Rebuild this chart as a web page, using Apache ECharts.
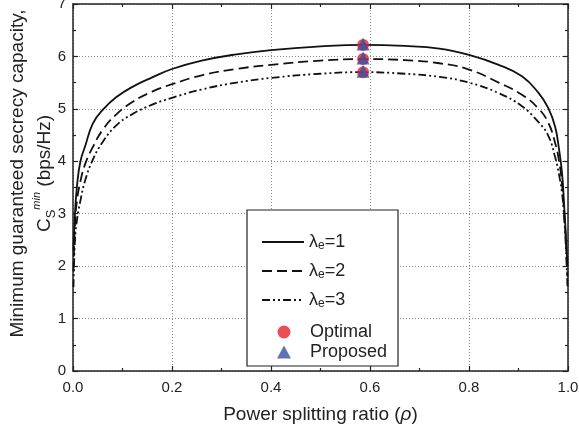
<!DOCTYPE html>
<html>
<head>
<meta charset="utf-8">
<script src="https://cdn.jsdelivr.net/npm/echarts@6/dist/echarts.min.js"></script>
<style>html,body{margin:0;padding:0;background:#fff}#c{width:579px;height:435px}</style>
</head>
<body>
<div id="c"></div>
<script>
var rho = [0.001,0.004,0.008,0.015,0.025,0.04,0.06,0.087,0.12,0.16,0.2,0.26,0.33,0.4,0.5,0.586,0.67,0.74,0.8,0.86,0.907,0.94,0.96,0.974,0.982,0.988,0.992,0.995,0.999];
var cs1 = [2.3,3.0,3.52,4.0,4.3,4.72,4.98,5.22,5.42,5.6,5.76,5.92,6.04,6.12,6.19,6.22,6.2,6.15,6.03,5.84,5.62,5.31,5.02,4.66,4.22,3.77,3.2,2.7,2.0];
var cs2 = [1.9,2.8,3.25,3.62,3.96,4.27,4.6,4.89,5.13,5.33,5.47,5.64,5.76,5.84,5.92,5.95,5.93,5.87,5.75,5.5,5.27,5.01,4.74,4.35,4.0,3.55,3.05,2.6,1.8];
var cs3 = [1.6,2.5,2.88,3.25,3.65,4.03,4.37,4.68,4.9,5.08,5.21,5.37,5.5,5.59,5.67,5.7,5.67,5.61,5.5,5.3,5.05,4.75,4.49,4.08,3.74,3.39,2.95,2.5,1.6];
var rhoOpt = [0.586, 0.586, 0.586];
var csOpt = [6.22, 5.95, 5.70];
var rhoProp = [0.586, 0.586, 0.586];
var csProp = [6.22, 5.95, 5.70];
var lineNames = ['λe=1', 'λe=2', 'λe=3'];
var markNames = ['Optimal', 'Proposed'];
var xTicks = ['0.0','0.2','0.4','0.6','0.8','1.0'];
var yTicks = ['0','1','2','3','4','5','6','7'];

function pairs(xs, ys){ return xs.map(function(x,i){ return [x, ys[i]]; }); }

var FONT = 'Liberation Sans, Arial, sans-serif';
var TXT = '#222';
var chart = echarts.init(document.getElementById('c'), null, {renderer:'canvas'});

var axisCommon = {
  axisLine: {show:true, onZero:false, lineStyle:{color:'#222', width:1.5}},
  axisTick: {show:true, inside:true, length:5, lineStyle:{color:'#222', width:1.2}},
  minorTick: {show:true, splitNumber:2, length:3, lineStyle:{color:'#222', width:1.2}}
};

function legendFmt(name){
  var m = /^λe(=\d)$/.exec(name);
  if (m) return '{a|λ}{b|e}{a|' + m[1] + '}';
  return '{p|' + name + '}';
}
var legendRich = {
  a:{fontSize:18, fontFamily:FONT, color:TXT, lineHeight:20},
  b:{fontSize:12, fontFamily:FONT, color:TXT, lineHeight:13, verticalAlign:'bottom'},
  p:{fontSize:18, fontFamily:FONT, color:TXT, lineHeight:20, padding:[0,0,0,14]}
};

var dashTypes = ['solid', [10,5], [8,3,2,3,2,3]];

var series = [];
[cs1, cs2, cs3].forEach(function(arr, i){
  series.push({
    type:'line', name: lineNames[i], xAxisIndex:0, yAxisIndex:0,
    data: pairs(rho, arr), symbol:'none', smooth:0.45,
    lineStyle:{color:'#111', width:1.8, type: dashTypes[i]},
    itemStyle:{color:'#111'}, z:3
  });
});
series.push({
  type:'scatter', name: markNames[0], data: pairs(rhoOpt, csOpt),
  symbol:'circle', symbolSize:12, itemStyle:{color:'#e8202a'}, z:4
});
series.push({
  type:'scatter', name: markNames[1], data: pairs(rhoProp, csProp),
  symbol:'triangle', symbolSize:13, symbolOffset:[0,-1], itemStyle:{color:'#3a4fa0'}, z:5
});

chart.setOption({
  animation:false,
  backgroundColor:'#fff',
  grid:{left:73, right:11, top:4, bottom:64, containLabel:false, outerBoundsMode:'none'},
  xAxis:[
    Object.assign({}, axisCommon, {
      type:'value', position:'bottom', min:0, max:1, interval:0.2,
      axisLabel:{show:true, margin:9, fontSize:15, fontFamily:FONT, color:TXT,
        formatter:function(v){ return xTicks[Math.round(v/0.2)]; }},
      splitLine:{show:true, lineStyle:{color:'#8a8a8a', width:1, type:[1,2]}},
      name:'{t|Power splitting ratio (}{i|ρ}{t|)}', nameLocation:'middle', nameGap:34,
      nameMoveOverlap:false,
      nameTextStyle:{fontSize:19, fontFamily:FONT, color:TXT,
        rich:{t:{fontSize:19, fontFamily:FONT, color:TXT}, i:{fontSize:19, fontFamily:FONT, fontStyle:'italic', color:TXT}}}
    }),
    Object.assign({}, axisCommon, {
      type:'value', position:'top', min:0, max:1, interval:0.2,
      axisLabel:{show:false}, splitLine:{show:false}
    })
  ],
  yAxis:[
    Object.assign({}, axisCommon, {
      type:'value', position:'left', min:0, max:7, interval:1,
      axisLabel:{show:true, margin:7, fontSize:15, fontFamily:FONT, color:TXT,
        formatter:function(v){ return yTicks[Math.round(v)]; }},
      splitLine:{show:true, lineStyle:{color:'#8a8a8a', width:1, type:[1,2]}},
      name:'{t|Minimum guaranteed secrecy capacity,}\n{t|C}{sub|S}{sup|min}{t| (bps/Hz)}',
      nameLocation:'middle', nameGap:15, nameMoveOverlap:false,
      nameTextStyle:{fontSize:19, fontFamily:FONT, color:TXT, padding:[0,0,0,28],
        rich:{
          t:{fontSize:19, fontFamily:FONT, color:TXT, lineHeight:27},
          sub:{fontSize:13, fontFamily:FONT, color:TXT, lineHeight:14, verticalAlign:'bottom'},
          sup:{fontSize:11, fontFamily:FONT, fontStyle:'italic', color:TXT, lineHeight:12, verticalAlign:'top'}
        }}
    }),
    Object.assign({}, axisCommon, {
      type:'value', position:'right', min:0, max:7, interval:1,
      axisLabel:{show:false}, splitLine:{show:false}
    })
  ],
  graphic:[{
    type:'rect', z:10, silent:true,
    shape:{x:247, y:210, width:151, height:156},
    style:{fill:'#fff', stroke:'#222', lineWidth:1.2}
  }],
  legend:[{
    data: lineNames, orient:'vertical', left:256, top:228, itemGap:10,
    itemWidth:42, itemHeight:14, z:20, selectedMode:false,
    itemStyle:{opacity:0},
    formatter: legendFmt, textStyle:{rich:legendRich, fontFamily:FONT, fontSize:18, color:TXT}
  },{
    data: markNames, orient:'vertical', left:272, top:318, itemGap:2,
    itemWidth:14, itemHeight:13, z:20, selectedMode:false,
    formatter: legendFmt, textStyle:{rich:legendRich, fontFamily:FONT, fontSize:18, color:TXT}
  }],
  series: series
});
</script>
</body>
</html>
